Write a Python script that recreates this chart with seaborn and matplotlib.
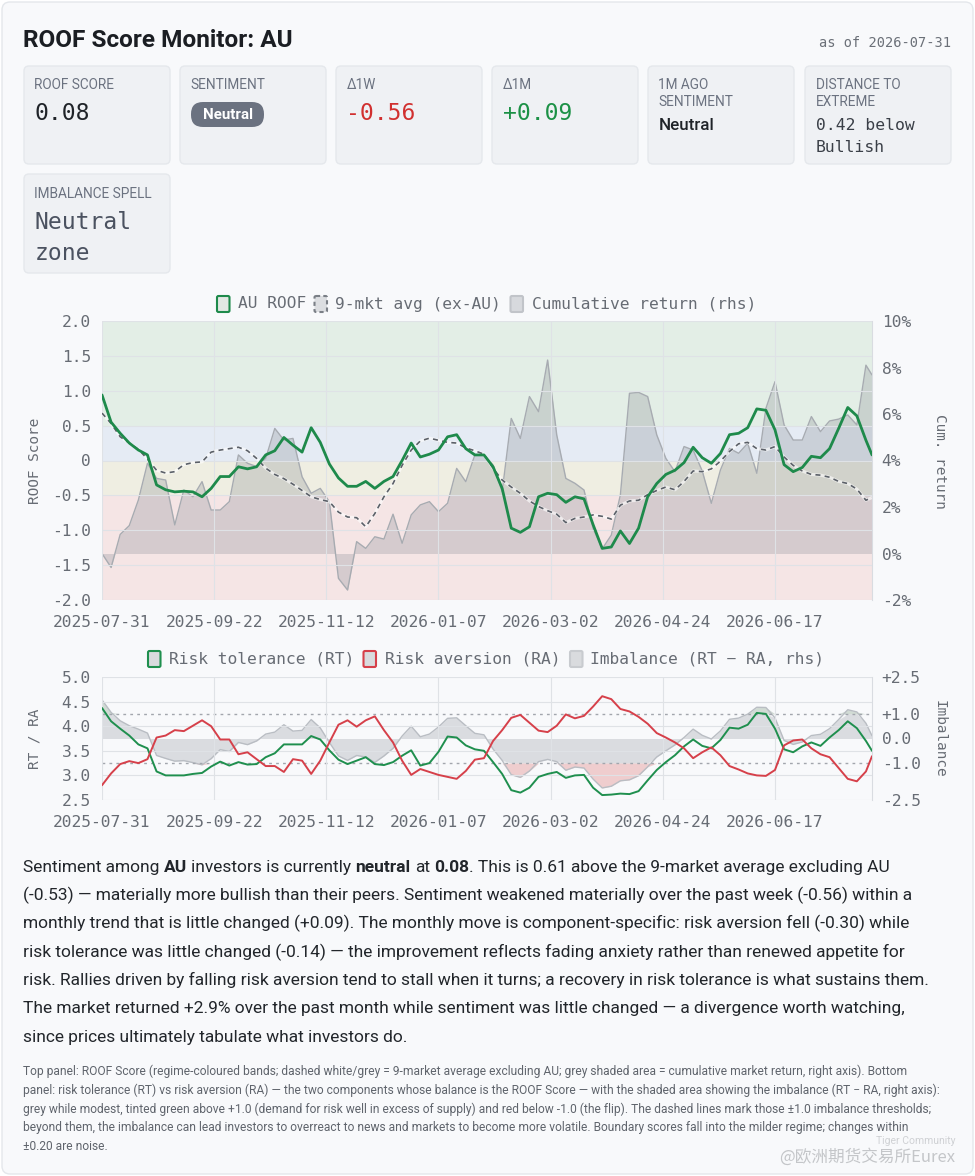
import numpy as np
import pandas as pd
import matplotlib
matplotlib.use("Agg")
import matplotlib.pyplot as plt
import seaborn as sns
from matplotlib.patches import FancyBboxPatch, Rectangle
from matplotlib.transforms import blended_transform_factory

# ---------------- data ----------------
HOLIDAYS = ["2025-12-25", "2025-12-26", "2026-01-01", "2026-01-26",
            "2026-04-03", "2026-04-06", "2026-06-08"]
START, END = "2025-07-31", "2026-07-31"

# trading-day positions of the sampled observations
sample_idx = list(range(0, 253, 3)) + [254]

roof = [0.94, 0.55, 0.39, 0.25, 0.15, 0.08, -0.35, -0.42, -0.45, -0.44,
        -0.45, -0.52, -0.40, -0.23, -0.23, -0.09, -0.12, -0.09, 0.08, 0.14,
        0.33, 0.22, 0.12, 0.47, 0.26, -0.05, -0.25, -0.37, -0.37, -0.30,
        -0.40, -0.30, -0.23, 0.00, 0.25, 0.05, 0.09, 0.15, 0.34, 0.37,
        0.17, 0.08, 0.08, -0.09, -0.40, -0.97, -1.03, -0.95, -0.52, -0.47,
        -0.49, -0.60, -0.52, -0.55, -0.92, -1.26, -1.24, -1.01, -1.19, -0.97,
        -0.52, -0.33, -0.20, -0.14, -0.03, 0.19, 0.04, -0.04, 0.10, 0.37,
        0.39, 0.47, 0.74, 0.72, 0.44, -0.06, -0.16, -0.10, 0.06, 0.04,
        0.17, 0.46, 0.76, 0.64, 0.29, 0.08]

avg9 = [0.68, 0.53, 0.34, 0.25, 0.16, 0.02, -0.14, -0.18, -0.16, -0.06,
        -0.03, -0.02, 0.12, 0.15, 0.17, 0.19, 0.14, 0.03, -0.11, -0.20,
        -0.26, -0.34, -0.43, -0.52, -0.56, -0.59, -0.74, -0.81, -0.82, -0.95,
        -0.76, -0.52, -0.33, -0.07, 0.15, 0.28, 0.32, 0.29, 0.26, 0.25,
        0.18, 0.14, 0.09, -0.11, -0.28, -0.38, -0.47, -0.58, -0.66, -0.72,
        -0.77, -0.89, -0.83, -0.81, -0.78, -0.80, -0.84, -0.64, -0.58, -0.57,
        -0.49, -0.43, -0.38, -0.42, -0.30, -0.15, -0.16, -0.12, -0.01, 0.13,
        0.24, 0.26, 0.17, 0.15, 0.20, 0.05, -0.07, -0.15, -0.20, -0.21,
        -0.24, -0.30, -0.33, -0.41, -0.57, -0.53]

cum_ret = [0.0, -0.6, 0.82, 1.2, 2.3, 3.88, 3.23, 3.16, 1.23, 2.73,
           2.44, 3.09, 1.87, 1.87, 2.23, 4.24, 3.88, 3.74, 4.09, 5.38,
           4.88, 4.95, 3.30, 2.59, 2.80, 2.23, -1.07, -1.57, 0.51, 0.22,
           0.72, 0.62, 1.69, 0.44, 1.66, 2.09, 2.23, 1.80, 2.16, 3.66,
           3.09, 4.24, 4.24, 3.80, 2.66, 5.81, 4.95, 6.75, 6.10, 8.32,
           5.10, 3.23, 3.02, 2.73, 1.08, 0.20, 0.79, 2.52, 6.89, 6.93,
           6.75, 5.10, 4.09, 3.52, 4.60, 4.45, 3.55, 2.16, 3.59, 4.52,
           4.31, 4.74, 3.45, 6.24, 7.39, 5.53, 4.88, 4.88, 5.89, 5.24,
           5.70, 5.78, 5.96, 5.53, 8.10, 7.68]

rt = [4.37, 4.10, 3.95, 3.81, 3.63, 3.55, 3.08, 3.00, 3.00, 3.00,
      3.03, 3.05, 3.18, 3.28, 3.20, 3.27, 3.22, 3.23, 3.37, 3.45,
      3.63, 3.63, 3.63, 3.80, 3.73, 3.51, 3.32, 3.23, 3.30, 3.37,
      3.23, 3.21, 3.27, 3.40, 3.51, 3.20, 3.25, 3.48, 3.79, 3.77,
      3.61, 3.53, 3.50, 3.27, 3.03, 2.70, 2.65, 2.75, 2.97, 3.03,
      3.07, 2.95, 3.00, 3.01, 2.75, 2.60, 2.61, 2.63, 2.62, 2.68,
      2.90, 3.11, 3.27, 3.41, 3.59, 3.73, 3.60, 3.55, 3.72, 3.97,
      3.95, 4.03, 4.27, 4.25, 3.95, 3.53, 3.47, 3.59, 3.67, 3.60,
      3.77, 3.92, 4.10, 3.96, 3.70, 3.50]

ra = [2.80, 3.04, 3.23, 3.29, 3.25, 3.33, 3.77, 3.81, 3.92, 3.90,
      4.01, 4.12, 4.00, 3.73, 3.73, 3.43, 3.47, 3.33, 3.19, 3.19,
      3.07, 3.33, 3.30, 3.03, 3.30, 3.67, 4.03, 4.12, 3.99, 4.12,
      4.20, 3.92, 3.67, 3.30, 3.01, 3.13, 3.07, 3.01, 2.97, 2.93,
      3.09, 3.32, 3.35, 3.70, 3.92, 4.17, 4.23, 4.07, 3.91, 3.88,
      4.01, 4.24, 4.16, 4.21, 4.40, 4.61, 4.55, 4.35, 4.30, 4.19,
      4.05, 3.86, 3.77, 3.67, 3.55, 3.35, 3.47, 3.57, 3.41, 3.19,
      3.12, 3.04, 3.00, 2.99, 3.11, 3.61, 3.71, 3.73, 3.55, 3.43,
      3.37, 3.15, 2.93, 2.88, 3.08, 3.39]

tick_dates = ["2025-07-31", "2025-09-22", "2025-11-12", "2026-01-07",
              "2026-03-02", "2026-04-24", "2026-06-17"]
roof_ticks = [-2.0, -1.5, -1.0, -0.5, 0.0, 0.5, 1.0, 1.5, 2.0]
roof_tick_labels = ["-2.0", "-1.5", "-1.0", "-0.5", "0", "0.5", "1.0", "1.5", "2.0"]
ret_ticks = [-2, 0, 2, 4, 6, 8, 10]
ret_tick_labels = ["-2%", "0%", "2%", "4%", "6%", "8%", "10%"]
rtra_ticks = [2.5, 3.0, 3.5, 4.0, 4.5, 5.0]
rtra_tick_labels = ["2.5", "3.0", "3.5", "4.0", "4.5", "5.0"]
imb_ticks = [-2.5, -1.0, 0.0, 1.0, 2.5]
imb_tick_labels = ["-2.5", "-1.0", "0.0", "+1.0", "+2.5"]
bands = [(0.5, 2.0, "#e3eee6"), (0.0, 0.5, "#e5ebf4"),
         (-0.5, 0.0, "#efeee2"), (-2.0, -0.5, "#f5e5e5")]
IMB_THRESH = 1.0

cards = [
    ("ROOF SCORE", None, "0.08", "value", "#1f2328"),
    ("SENTIMENT", None, "Neutral", "badge", "#ffffff"),
    ("Δ1W", None, "-0.56", "value", "#d1302f"),
    ("Δ1M", None, "+0.09", "value", "#1c9146"),
    ("1M AGO", "SENTIMENT", "Neutral", "sans", "#1f2328"),
    ("DISTANCE TO", "EXTREME", "0.42 below\nBullish", "mono_small", "#3a3f47"),
]
card2 = ("IMBALANCE SPELL", "Neutral\nzone")

para = [
    [("Sentiment among ", "normal"), ("AU", "bold"), (" investors is currently ", "normal"),
     ("neutral", "bold"), (" at ", "normal"), ("0.08", "bold"),
     (". This is 0.61 above the 9-market average excluding AU", "normal")],
    [("(-0.53) \u2014 materially more bullish than their peers. Sentiment weakened materially over the past week (-0.56) within a", "normal")],
    [("monthly trend that is little changed (+0.09). The monthly move is component-specific: risk aversion fell (-0.30) while", "normal")],
    [("risk tolerance was little changed (-0.14) \u2014 the improvement reflects fading anxiety rather than renewed appetite for", "normal")],
    [("risk. Rallies driven by falling risk aversion tend to stall when it turns; a recovery in risk tolerance is what sustains them.", "normal")],
    [("The market returned +2.9% over the past month while sentiment was little changed \u2014 a divergence worth watching,", "normal")],
    [("since prices ultimately tabulate what investors do.", "normal")],
]
foot = [
    "Top panel: ROOF Score (regime-coloured bands; dashed white/grey = 9-market average excluding AU; grey shaded area = cumulative market return, right axis). Bottom",
    "panel: risk tolerance (RT) vs risk aversion (RA) \u2014 the two components whose balance is the ROOF Score \u2014 with the shaded area showing the imbalance (RT \u2212 RA, right axis):",
    "grey while modest, tinted green above +1.0 (demand for risk well in excess of supply) and red below -1.0 (the flip). The dashed lines mark those \u00b11.0 imbalance thresholds;",
    "beyond them, the imbalance can lead investors to overreact to news and markets to become more volatile. Boundary scores fall into the milder regime; changes within",
    "\u00b10.20 are noise.",
]

# ---------------- style ----------------
sns.set_theme(style="white")
MONO = ["DejaVu Sans Mono"]
SANS = ["Roboto", "DejaVu Sans"]
plt.rcParams["font.family"] = MONO
TICK_C = "#676c74"
GRID_C = "#dfe2e6"

W, H = 975, 1176
fig = plt.figure(figsize=(W / 100, H / 100), dpi=100)
fig.patch.set_facecolor("white")
R = fig.canvas.get_renderer()

bg = fig.add_axes([0, 0, 1, 1])
bg.set_xlim(0, W)
bg.set_ylim(H, 0)
bg.axis("off")
bg.set_zorder(-10)
bg.add_patch(FancyBboxPatch((2, 2), W - 4, H - 4, boxstyle="round,pad=0,rounding_size=8",
                            fc="#f8f9fb", ec="#e4e7eb", lw=1))


def width_of(s, size, family, weight="normal"):
    t = bg.text(0, 0, s, fontsize=size, family=family, fontweight=weight)
    w = t.get_window_extent(R).width
    t.remove()
    return w


def fit(s, target, family, weight="normal"):
    return 10 * target / width_of(s, 10, family, weight)


def runs(x, y, parts, size, family, color):
    for s, wt in parts:
        sp = width_of("a a", size, family, wt) - width_of("aa", size, family, wt)
        lead = len(s) - len(s.lstrip(" "))
        trail = len(s) - len(s.rstrip(" "))
        x += lead * sp
        core = s.strip(" ")
        t = bg.text(x, y, core, fontsize=size, family=family, fontweight=wt,
                    color=color, va="baseline", ha="left")
        x += t.get_window_extent(R).width + trail * sp


# ---------------- header ----------------
ts = fit("ROOF Score Monitor: AU", 270, SANS, "bold")
bg.text(23, 47, "ROOF Score Monitor: AU", fontsize=ts, family=SANS, fontweight="bold",
        color="#1b1e23", va="baseline")
bg.text(951, 47, "as of 2026-07-31", fontsize=9.8, family=MONO, color="#6b7078",
        ha="right", va="baseline")

lab_size = fit("IMBALANCE SPELL", 117, SANS)
card_x = [24, 180, 336, 492, 648, 805]
for cx, (l1, l2, val, kind, col) in zip(card_x, cards):
    bg.add_patch(FancyBboxPatch((cx, 66), 146, 98, boxstyle="round,pad=0,rounding_size=5",
                                fc="#eff1f4", ec="#e5e8ec", lw=1))
    tx = cx + 10.5
    bg.text(tx, 89, l1, fontsize=lab_size, family=SANS, color="#6b7280", va="baseline")
    if l2:
        bg.text(tx, 106, l2, fontsize=lab_size, family=SANS, color="#6b7280", va="baseline")
    if kind == "value":
        bg.text(tx, 120.5, val, fontsize=16.6, family=MONO, color=col, va="baseline")
    elif kind == "badge":
        bg.add_patch(FancyBboxPatch((cx + 11, 102), 73, 25, boxstyle="round,pad=0,rounding_size=12",
                                    fc="#6b7280", ec="none"))
        bs = fit(val, 50, SANS, "bold")
        bg.text(cx + 47.5, 115, val, fontsize=bs, family=SANS, fontweight="bold",
                color=col, ha="center", va="center")
    elif kind == "sans":
        ss = fit(val, 56, SANS, "bold")
        bg.text(tx, 130, val, fontsize=ss, family=SANS, fontweight="medium", color=col, va="baseline")
    else:
        for k, line in enumerate(val.split("\n")):
            bg.text(tx, 130 + 21.5 * k, line, fontsize=11.8, family=MONO, color=col, va="baseline")

bg.add_patch(FancyBboxPatch((24, 174), 146, 99, boxstyle="round,pad=0,rounding_size=5",
                            fc="#eff1f4", ec="#e5e8ec", lw=1))
bg.text(34.5, 197.7, card2[0], fontsize=lab_size, family=SANS, color="#6b7280", va="baseline")
for k, line in enumerate(card2[1].split("\n")):
    bg.text(34.5, 229 + 31 * k, line, fontsize=16.6, family=MONO, color="#4b5260", va="baseline")

# ---------------- calendar / positions ----------------
trading_days = pd.bdate_range(START, END, freq="C", holidays=HOLIDAYS)
xs = np.array(sample_idx)
tick_pos = trading_days.get_indexer(pd.to_datetime(tick_dates))
x_max = len(trading_days) - 1


def style_axes(ax, axr, yt, ytl, yrt, yrtl, ylim, yrlim):
    ax.set_xlim(0, x_max)
    ax.set_ylim(*ylim)
    axr.set_ylim(*yrlim)
    ax.set_xticks(tick_pos)
    ax.set_xticklabels(tick_dates)
    ax.set_yticks(yt)
    ax.set_yticklabels(ytl)
    axr.set_yticks(yrt)
    axr.set_yticklabels(yrtl)
    ax.grid(True, color=GRID_C, lw=0.8)
    ax.set_axisbelow(True)
    axr.grid(False)
    for a in (ax, axr):
        for s in a.spines.values():
            s.set_visible(False)
        a.set_xlabel("")
        a.set_ylabel("")
    axr.spines["right"].set_visible(True)
    axr.spines["right"].set_color("#d9dce1")
    axr.spines["right"].set_linewidth(0.8)
    ax.tick_params(axis="x", length=4, color="#cfd3d8", width=0.8, pad=7,
                   labelsize=11.7, labelcolor=TICK_C)
    ax.tick_params(axis="y", length=0, pad=8, labelsize=11.7, labelcolor=TICK_C)
    axr.tick_params(axis="y", length=0, pad=7, labelsize=11.7, labelcolor=TICK_C)


# ---------------- top panel ----------------
ax1 = fig.add_axes([102 / W, 1 - 600 / H, 770 / W, 279 / H])
ax1r = ax1.twinx()
ax1.set_zorder(ax1r.get_zorder() + 1)
ax1.patch.set_visible(False)
ax1r.patch.set_visible(False)

trans1 = blended_transform_factory(ax1r.transAxes, ax1.transData)
for lo, hi, c in bands:
    ax1r.add_patch(Rectangle((0, lo), 1, hi - lo, transform=trans1, fc=c, ec="none", zorder=0))

ax1r.fill_between(xs, 0, cum_ret, color="#8d9299", alpha=0.3, lw=0, zorder=1)
sns.lineplot(x=xs, y=cum_ret, ax=ax1r, color="#a7abb1", linewidth=1, zorder=2)

sns.lineplot(x=xs, y=avg9, ax=ax1, color="white", linewidth=2.2, alpha=0.6)
sns.lineplot(x=xs, y=avg9, ax=ax1, color="#5b6068", linewidth=1.2, linestyle=(0, (3, 2.6)))
sns.lineplot(x=xs, y=roof, ax=ax1, color="#1e8a4b", linewidth=2.0)

style_axes(ax1, ax1r, roof_ticks, roof_tick_labels, ret_ticks, ret_tick_labels, (-2, 2), (-2, 10))

# ---------------- bottom panel ----------------
ax2 = fig.add_axes([102 / W, 1 - 800 / H, 770 / W, 123 / H])
ax2r = ax2.twinx()
ax2.set_zorder(ax2r.get_zorder() + 1)
ax2.patch.set_visible(False)
ax2r.patch.set_visible(False)

imb = np.array(rt) - np.array(ra)
ax2r.fill_between(xs, 0, np.clip(imb, -IMB_THRESH, IMB_THRESH), color="#c2c5ca", alpha=0.55, lw=0)
ax2r.fill_between(xs, IMB_THRESH, np.maximum(imb, IMB_THRESH), color="#bccbc0", alpha=0.65, lw=0)
ax2r.fill_between(xs, -IMB_THRESH, np.minimum(imb, -IMB_THRESH), color="#e8a2a2", alpha=0.5, lw=0)
sns.lineplot(x=xs, y=imb, ax=ax2r, color="#b9bdc3", linewidth=1)
for lv in (IMB_THRESH, -IMB_THRESH):
    ax2r.axhline(lv, color="#a2a6ad", lw=1, ls=(0, (2, 3)))

sns.lineplot(x=xs, y=rt, ax=ax2, color="#1f8f4e", linewidth=1.4)
sns.lineplot(x=xs, y=ra, ax=ax2, color="#d6404a", linewidth=1.4)

style_axes(ax2, ax2r, rtra_ticks, rtra_tick_labels, imb_ticks, imb_tick_labels, (2.5, 5.0), (-2.5, 2.5))

# ---------------- axis titles ----------------
for (x, y, s, rot) in [(35, 461, "ROOF Score", 90), (940, 461, "Cum. return", 270),
                       (35, 739, "RT / RA", 90), (940, 739, "Imbalance", 270)]:
    bg.text(x, y, s, rotation=rot, ha="center", va="center", fontsize=10.4,
            family=MONO, color=TICK_C)

# ---------------- legends ----------------
def leg_box(x, yc, fc, ec, ls="solid"):
    bg.add_patch(FancyBboxPatch((x, yc - 8), 12.5, 16, boxstyle="round,pad=0,rounding_size=1.5",
                                fc=fc, ec=ec, lw=1.5, ls=ls))


LEG_FS = 11.7
leg_box(217, 304, "#e2e8e3", "#1e8a4b")
bg.text(237.5, 304, "AU ROOF", fontsize=LEG_FS, color=TICK_C, va="center")
leg_box(314.5, 304, "#dcdee1", "#7a7f86", ls=(0, (2, 1.5)))
bg.text(335, 304, "9-mkt avg (ex-AU)", fontsize=LEG_FS, color=TICK_C, va="center")
leg_box(510.5, 304, "#d7d9dd", "#c1c4c9")
bg.text(531.5, 304, "Cumulative return (rhs)", fontsize=LEG_FS, color=TICK_C, va="center")

leg_box(148, 659, "#d9dbde", "#1f8f4e")
bg.text(169, 659, "Risk tolerance (RT)", fontsize=LEG_FS, color=TICK_C, va="center")
leg_box(363.5, 659, "#d9dbde", "#d6404a")
bg.text(385, 659, "Risk aversion (RA)", fontsize=LEG_FS, color=TICK_C, va="center")
leg_box(570, 659, "#d9dbde", "#c8cbcf")
bg.text(590.5, 659, "Imbalance (RT \u2212 RA, rhs)", fontsize=LEG_FS, color=TICK_C, va="center")

# ---------------- commentary ----------------
ps = fit(para[4][0][0], 912, SANS)
for k, parts in enumerate(para):
    runs(23, 872 + 28.3 * k, parts, ps, SANS, "#22262b")

fs = fit(foot[2], 910, SANS)
for k, line in enumerate(foot):
    bg.text(23, 1075 + 18.75 * k, line, fontsize=fs, family=SANS, color="#5f646c", va="baseline")

# watermark
bg.text(955, 1141, "Tiger Community", fontsize=7.5, family=SANS, color="#cfd1d4",
        ha="right", va="center")
bg.text(955, 1157, "@\u6b27\u6d32\u671f\u8d27\u4ea4\u6613\u6240Eurex", fontsize=12,
        family=["Noto Sans CJK SC", "DejaVu Sans"], color="#c4c6c9", ha="right", va="center")

fig.savefig("out.png", dpi=100, facecolor=fig.get_facecolor())
